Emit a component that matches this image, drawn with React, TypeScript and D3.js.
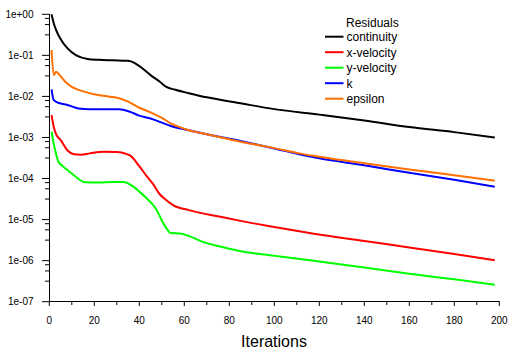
import React from "react";
import * as d3 from "d3";

const contIter = [1, 2, 3, 5, 8, 12, 17, 22, 28, 35, 38, 41, 45, 49, 52, 56, 62, 70, 85, 100, 120, 140, 160, 180, 198];
const contVal = [1.0, 0.6, 0.42, 0.25, 0.15, 0.1, 0.082, 0.078, 0.076, 0.074, 0.065, 0.05, 0.033, 0.023, 0.017, 0.0145, 0.012, 0.0095, 0.0068, 0.0049, 0.0036, 0.0026, 0.0018, 0.00135, 0.001];

const xvelIter = [1, 2, 3, 5, 8, 11, 14, 18, 24, 30, 34, 36, 40, 43, 46, 49, 51, 55, 62, 76, 85, 98, 115, 140, 160, 180, 198];
const xvelVal = [0.0035, 0.0018, 0.0012, 0.00087, 0.00049, 0.00039, 0.00038, 0.00041, 0.00045, 0.00044, 0.0004, 0.00036, 0.0002, 0.00012, 0.000075, 0.000042, 0.000033, 0.0000225, 0.000017, 0.0000117, 0.0000093, 0.0000069, 0.0000048, 0.000003, 0.0000021, 0.00000145, 0.00000102];

const yvelIter = [1, 2, 3, 4, 6, 9, 11, 16, 22, 28, 33, 37, 40, 43, 46, 48, 50, 52, 54, 58, 62, 68, 76, 83, 98, 115, 140, 160, 180, 198];
const yvelVal = [0.00138, 0.0007, 0.0004, 0.00026, 0.0002, 0.000147, 0.00012, 0.000081, 0.00008, 0.000082, 0.000082, 0.000065, 0.000048, 0.000034, 0.000023, 0.000016, 0.0000095, 0.0000062, 0.0000047, 0.0000046, 0.000004, 0.0000029, 0.0000022, 0.0000018, 0.00000135, 0.00000103, 0.00000068, 0.00000048, 0.00000035, 0.00000026];

const kIter = [1, 2, 4, 8, 13, 18, 25, 31, 36, 40, 45, 50, 54, 62, 70, 85, 100, 111, 120, 140, 160, 180, 198];
const kVal = [0.0149, 0.0081, 0.007, 0.0062, 0.0051, 0.0049, 0.0049, 0.0049, 0.0042, 0.0034, 0.0029, 0.0023, 0.0019, 0.0015, 0.0012, 0.00082, 0.00054, 0.00039, 0.00031, 0.00021, 0.000138, 0.000093, 0.000063];

const epsIter = [1, 2, 3, 4, 7, 10, 13, 20, 27, 30, 35, 40, 45, 50, 54, 62, 70, 85, 100, 111, 120, 140, 160, 180, 198];
const epsVal = [0.135, 0.033, 0.04, 0.036, 0.023, 0.017, 0.0144, 0.0113, 0.0098, 0.0093, 0.0075, 0.0053, 0.0041, 0.003, 0.0022, 0.0015, 0.0012, 0.00079, 0.00055, 0.00041, 0.00034, 0.000235, 0.000166, 0.00012, 0.000089];

const seriesNames = ["continuity", "x-velocity", "y-velocity", "k", "epsilon"];
const seriesColors = ["#000000", "#ff0000", "#00ff00", "#0000ff", "#ff7000"];
const seriesIters = [contIter, xvelIter, yvelIter, kIter, epsIter];
const seriesVals = [contVal, xvelVal, yvelVal, kVal, epsVal];

const xTicks = [0, 20, 40, 60, 80, 100, 120, 140, 160, 180, 200];
const yExps = [0, -1, -2, -3, -4, -5, -6, -7];

const FONT = "'Liberation Sans', Arial, sans-serif";

export default function App() {
  const x = d3.scaleLinear().domain([0, 200]).range([49.3, 499.3]);
  const y = d3.scaleLog().domain([1e-7, 1]).range([301.7, 14.3]);
  const line = d3
    .line<[number, number]>()
    .x((d) => x(d[0]))
    .y((d) => y(d[1]))
    .curve(d3.curveMonotoneX);

  const fmt = (e: number) =>
    `1e${e >= 0 ? "+" : "-"}${String(Math.abs(e)).padStart(2, "0")}`;

  const minorX = d3.range(10, 200, 20);
  const minorY: number[] = [];
  yExps.forEach((e) => {
    if (e > -7) [0.1, 0.25, 0.5].forEach((f) => minorY.push(Math.pow(10, e - f)));
  });

  return (
    <svg
      width={511}
      height={353}
      style={{ position: "absolute", left: 0, top: 0, background: "#fff" }}
      fontFamily={FONT}
    >
      <rect width={511} height={353} fill="#fff" />
      {/* axes */}
      <line x1={49.5} x2={49.5} y1={14} y2={302} stroke="#000" strokeWidth={1} />
      <line x1={49} x2={499.5} y1={301.5} y2={301.5} stroke="#000" strokeWidth={1} />
      {yExps.map((e) => (
        <g key={e}>
          <line x1={42} x2={49.5} y1={y(Math.pow(10, e))} y2={y(Math.pow(10, e))} stroke="#000" />
          <text x={33.5} y={y(Math.pow(10, e)) + 3.6} textAnchor="end" fontSize={10}>
            {fmt(e)}
          </text>
        </g>
      ))}
      {minorY.map((v, i) => (
        <line key={i} x1={45} x2={49.5} y1={y(v)} y2={y(v)} stroke="#000" />
      ))}
      {xTicks.map((t) => (
        <g key={t}>
          <line x1={x(t)} x2={x(t)} y1={301.5} y2={306} stroke="#000" />
          <text x={x(t)} y={323.5} textAnchor="middle" fontSize={10}>
            {t}
          </text>
        </g>
      ))}
      {minorX.map((t) => (
        <line key={t} x1={x(t)} x2={x(t)} y1={301.5} y2={305} stroke="#000" />
      ))}
      <text x={274} y={347} textAnchor="middle" fontSize={16}>
        Iterations
      </text>
      {/* series */}
      {seriesNames.map((n, i) => (
        <path
          key={n}
          d={line(seriesIters[i].map((it, j) => [it, seriesVals[i][j]] as [number, number])) || ""}
          fill="none"
          stroke={seriesColors[i]}
          strokeWidth={2}
        />
      ))}
      {/* legend */}
      <text x={346} y={27} fontSize={12}>
        Residuals
      </text>
      {seriesNames.map((n, i) => (
        <g key={n}>
          <line x1={325} x2={343.5} y1={36.7 + i * 15.5} y2={36.7 + i * 15.5} stroke={seriesColors[i]} strokeWidth={2} />
          <text x={346.5} y={41.2 + i * 15.5} fontSize={12}>
            {n}
          </text>
        </g>
      ))}
    </svg>
  );
}
